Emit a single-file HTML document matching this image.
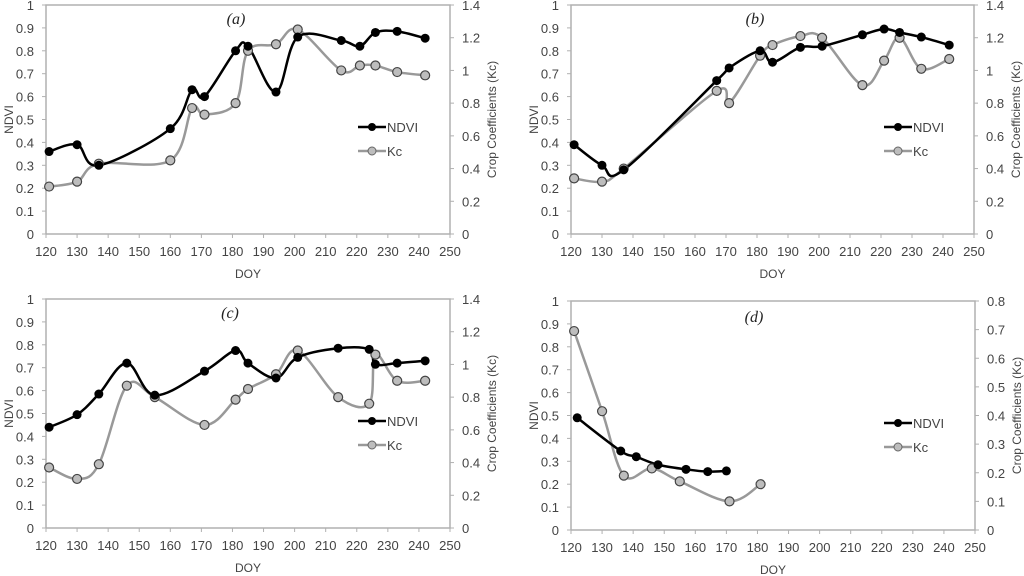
<!DOCTYPE html>
<html><head><meta charset="utf-8"><style>
html,body{margin:0;padding:0;background:#fff;}
svg{display:block;font-family:"Liberation Sans",sans-serif;}
</style></head><body>
<svg id="chart" width="1024" height="576" viewBox="0 0 1024 576"></svg>
<script>
const xTicks = [120,130,140,150,160,170,180,190,200,210,220,230,240,250];
const yTicksLeft = [0,0.1,0.2,0.3,0.4,0.5,0.6,0.7,0.8,0.9,1];
const rightTicksA = [0,0.2,0.4,0.6,0.8,1,1.2,1.4];
const rightTicksD = [0,0.1,0.2,0.3,0.4,0.5,0.6,0.7,0.8];

const ndviA_x = [121,130,137,160,167,171,181,185,194,201,215,221,226,233,242];
const ndviA_y = [0.36,0.39,0.30,0.46,0.63,0.60,0.80,0.82,0.62,0.86,0.845,0.82,0.88,0.885,0.855];
const kcA_x = [121,130,137,160,167,171,181,185,194,201,215,221,226,233,242];
const kcA_y = [0.29,0.32,0.43,0.45,0.77,0.73,0.80,1.12,1.16,1.25,1.0,1.03,1.03,0.99,0.97];

const ndviB_x = [121,130,137,167,171,181,185,194,201,214,221,226,233,242];
const ndviB_y = [0.39,0.30,0.28,0.67,0.725,0.80,0.75,0.815,0.82,0.87,0.895,0.88,0.86,0.825];
const kcB_x = [121,130,137,167,171,181,185,194,201,214,221,226,233,242];
const kcB_y = [0.34,0.32,0.40,0.875,0.80,1.09,1.155,1.21,1.20,0.91,1.06,1.20,1.01,1.07];

const ndviC_x = [121,130,137,146,155,171,181,185,194,201,214,224,226,233,242];
const ndviC_y = [0.44,0.495,0.585,0.72,0.58,0.685,0.775,0.72,0.655,0.745,0.785,0.78,0.715,0.72,0.73];
const kcC_x = [121,130,137,146,155,171,181,185,194,201,214,224,226,233,242];
const kcC_y = [0.37,0.30,0.39,0.87,0.80,0.63,0.785,0.85,0.94,1.085,0.80,0.76,1.06,0.90,0.90];

const ndviD_x = [122,136,141,148,157,164,170];
const ndviD_y = [0.49,0.345,0.32,0.285,0.265,0.255,0.258];
const kcD_x = [121,130,137,146,155,171,181];
const kcD_y = [0.695,0.415,0.19,0.215,0.17,0.10,0.16];

const panels = [
 {id:'a', x0:46, x1:450, yTop:5, yBot:234, rmax:1.4, rt:rightTicksA, nx:ndviA_x, ny:ndviA_y, kx:kcA_x, ky:kcA_y, tx:236, ty:24, lx:358, ly:127},
 {id:'b', x0:571, x1:974, yTop:5, yBot:234, rmax:1.4, rt:rightTicksA, nx:ndviB_x, ny:ndviB_y, kx:kcB_x, ky:kcB_y, tx:755, ty:24, lx:884, ly:127},
 {id:'c', x0:46, x1:450, yTop:299, yBot:528, rmax:1.4, rt:rightTicksA, nx:ndviC_x, ny:ndviC_y, kx:kcC_x, ky:kcC_y, tx:230, ty:318, lx:358, ly:421},
 {id:'d', x0:571, x1:975, yTop:301, yBot:530, rmax:0.8, rt:rightTicksD, nx:ndviD_x, ny:ndviD_y, kx:kcD_x, ky:kcD_y, tx:754, ty:322, lx:884, ly:423}
];
const NS='http://www.w3.org/2000/svg';
const svg=document.getElementById('chart');
function mk(tag,attrs,parent){const e=document.createElementNS(NS,tag);for(const k in attrs)e.setAttribute(k,attrs[k]);(parent||svg).appendChild(e);return e;}
function smooth(pts){
 if(pts.length<2)return '';
 let d='M'+pts[0][0]+','+pts[0][1];
 for(let i=0;i<pts.length-1;i++){
  const p0=pts[i-1]||pts[i],p1=pts[i],p2=pts[i+1],p3=pts[i+2]||p2;
  const t=0.17;
  const c1=[p1[0]+(p2[0]-p0[0])*t,p1[1]+(p2[1]-p0[1])*t];
  const c2=[p2[0]-(p3[0]-p1[0])*t,p2[1]-(p3[1]-p1[1])*t];
  d+=' C'+c1[0]+','+c1[1]+' '+c2[0]+','+c2[1]+' '+p2[0]+','+p2[1];
 }
 return d;
}
panels.forEach(p=>{
 const g=mk('g',{});
 
 
 const sx=v=>p.x0+(v-120)/(250-120)*(p.x1-p.x0);
 const syL=v=>p.yBot-v*(p.yBot-p.yTop);
 const syR=v=>p.yBot-v/p.rmax*(p.yBot-p.yTop);
 const frame=mk('path',{d:`M${p.x0},${p.yBot}V${p.yTop}H${p.x1}V${p.yBot}H${p.x0}`,fill:'none',stroke:'#b0b0b0','stroke-width':1.5},g);
 
 
 xTicks.forEach(v=>{
  mk('line',{x1:sx(v),x2:sx(v),y1:p.yBot,y2:p.yBot+4,stroke:'#b0b0b0'},g);
  const t=mk('text',{x:sx(v),y:p.yBot+22,'text-anchor':'middle','font-size':13,fill:'#444'},g);
  t.textContent=v;
  
  
 });
 yTicksLeft.forEach(v=>{
  mk('line',{x1:p.x0-4,x2:p.x0,y1:syL(v),y2:syL(v),stroke:'#b0b0b0'},g);
  const t=mk('text',{x:p.x0-12,y:syL(v)+5,'text-anchor':'end','font-size':13,fill:'#444'},g);
  t.textContent=v;
  
  
 });
 p.rt.forEach(v=>{
  mk('line',{x1:p.x1,x2:p.x1+4,y1:syR(v),y2:syR(v),stroke:'#b0b0b0'},g);
  const t=mk('text',{x:p.x1+12,y:syR(v)+5,'text-anchor':'start','font-size':13,fill:'#444'},g);
  t.textContent=v;
  
  
 });
 const xt=mk('text',{x:(p.x0+p.x1)/2,y:p.yBot+44,'text-anchor':'middle','font-size':12,fill:'#444'},g);
 xt.textContent='DOY';
 
 
 const ym=(p.yTop+p.yBot)/2;
 const yt=mk('text',{x:0,y:0,transform:`translate(${p.x0-33},${ym}) rotate(-90)`,'text-anchor':'middle','font-size':12,fill:'#444'},g);
 yt.textContent='NDVI';
 
 
 const rt=mk('text',{x:0,y:0,transform:`translate(${p.x1+46},${ym}) rotate(-90)`,'text-anchor':'middle','font-size':12,fill:'#444'},g);
 rt.textContent='Crop Coefficients (Kc)';
 
 
 const pt=mk('text',{x:p.tx,y:p.ty,'text-anchor':'middle','font-size':16,'font-style':'italic','font-family':'Liberation Serif, serif',fill:'#222'},g);
 pt.textContent='('+p.id+')';
 
 
 const kp=p.kx.map((x,i)=>[sx(x),syR(p.ky[i])]);
 const np=p.nx.map((x,i)=>[sx(x),syL(p.ny[i])]);
 const kl=mk('path',{d:smooth(kp),fill:'none',stroke:'#999','stroke-width':2.5},g);
 
 
 const nl=mk('path',{d:smooth(np),fill:'none',stroke:'#000','stroke-width':2.5},g);
 
 
 kp.forEach(q=>{const c=mk('circle',{cx:q[0],cy:q[1],r:4.5,fill:'#bdbdbd',stroke:'#444','stroke-width':1.2},g);
  
  });
 np.forEach(q=>{const c=mk('circle',{cx:q[0],cy:q[1],r:4.5,fill:'#000'},g);
  
  });
 // legend
 const lg=mk('g',{},g);
 
 
 mk('line',{x1:p.lx,x2:p.lx+28,y1:p.ly,y2:p.ly,stroke:'#000','stroke-width':2.5},lg);
 mk('circle',{cx:p.lx+14,cy:p.ly,r:4,fill:'#000'},lg);
 const t1=mk('text',{x:p.lx+29,y:p.ly+5,'font-size':13,fill:'#444'},lg);t1.textContent='NDVI';
 
 
 mk('line',{x1:p.lx,x2:p.lx+28,y1:p.ly+24,y2:p.ly+24,stroke:'#999','stroke-width':2.5},lg);
 mk('circle',{cx:p.lx+14,cy:p.ly+24,r:4,fill:'#bdbdbd',stroke:'#666'},lg);
 const t2=mk('text',{x:p.lx+29,y:p.ly+29,'font-size':13,fill:'#444'},lg);t2.textContent='Kc';
 
 
});
</script>
</body></html>
